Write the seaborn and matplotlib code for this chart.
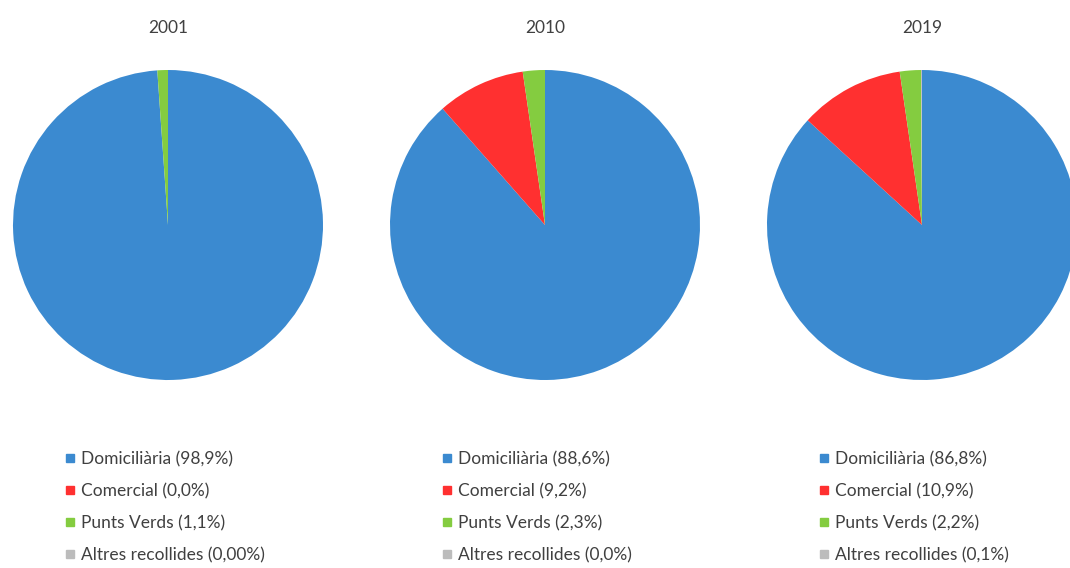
import numpy as np
import matplotlib
matplotlib.use("Agg")
import matplotlib.pyplot as plt
import seaborn as sns
from matplotlib.lines import Line2D

# Data
years = ["2001", "2010", "2019"]
categories = ["Domiciliària", "Comercial", "Punts Verds", "Altres recollides"]
values_2001 = [98.9, 0.0, 1.1, 0.0]
values_2010 = [88.6, 9.2, 2.3, 0.0]
values_2019 = [86.8, 10.9, 2.2, 0.1]
labels_2001 = ["98,9%", "0,0%", "1,1%", "0,00%"]
labels_2010 = ["88,6%", "9,2%", "2,3%", "0,0%"]
labels_2019 = ["86,8%", "10,9%", "2,2%", "0,1%"]

sns.set_theme(style="white")
plt.rcParams["font.family"] = ["Lato", "DejaVu Sans"]
colors = sns.color_palette(["#3b8ad0", "#ff3030", "#84cc40", "#bcbcbc"])

fig = plt.figure(figsize=(10.7, 5.68), dpi=100)
W, H = 1070, 568
centers = [168, 545, 922]
r = 155
cy = 225

all_vals = [values_2001, values_2010, values_2019]
all_labels = [labels_2001, labels_2010, labels_2019]

for i, year in enumerate(years):
    cx = centers[i]
    ax = fig.add_axes([(cx - r) / W, 1 - (cy + r) / H, 2 * r / W, 2 * r / H])
    vals = np.array(all_vals[i])
    ax.pie(np.where(vals > 0, vals, 1e-9), colors=colors, startangle=90,
           counterclock=False, wedgeprops=dict(linewidth=0))
    ax.set_aspect("equal")
    ax.set_xlim(-1, 1)
    ax.set_ylim(-1, 1)
    ax.axis("off")
    fig.text(cx / W, 1 - 28 / H, year, ha="center", va="center",
             fontsize=12.5, color="#404040")

    handles = [Line2D([], [], marker="s", linestyle="none", markersize=6,
                      markerfacecolor=c, markeredgecolor=c) for c in colors]
    texts = [f"{c} ({l})" for c, l in zip(categories, all_labels[i])]
    fig.legend(handles, texts, loc="upper left",
               bbox_to_anchor=((centers[i] - 110) / W, 1 - 444 / H),
               frameon=False, fontsize=12.5, handlelength=0.6,
               handletextpad=0.3, labelspacing=0.92, labelcolor="#404040",
               borderaxespad=0)

fig.savefig("out.png", dpi=100, facecolor="white")
